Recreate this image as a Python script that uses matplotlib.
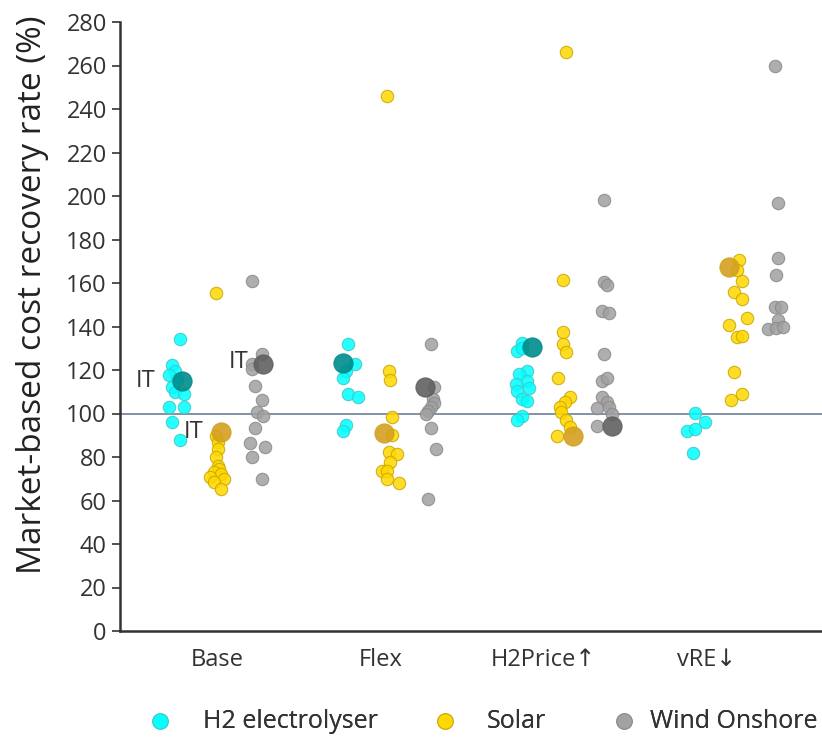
import numpy as np
import matplotlib
matplotlib.use("Agg")
import matplotlib.pyplot as plt

plt.rcParams['font.family'] = ['Open Sans', 'DejaVu Sans']

scenarios = ["Base", "Flex", "H2Price↑", "vRE↓"]
techs = ["H2 electrolyser", "Solar", "Wind Onshore"]

# recovery rates (%) per scenario
h2_vals = [
    [134.4, 122.2, 119.5, 117.6, 115.5, 112.0, 110.0, 109.0, 103.1, 102.8, 96.2, 87.9],
    [132.1, 122.7, 119.6, 116.5, 108.9, 107.7, 94.9, 92.1],
    [132.6, 128.8, 130.0, 119.6, 118.1, 115.0, 113.5, 111.7, 110.4, 106.6, 105.9, 99.0, 97.0],
    [100.1, 96.0, 91.8, 92.9, 81.7],
]
solar_vals = [
    [155.3, 89.8, 87.0, 83.7, 79.9, 76.0, 74.5, 73.0, 72.0, 70.7, 70.0, 68.5, 65.4],
    [246.1, 119.6, 115.5, 98.2, 90.0, 82.2, 81.4, 77.6, 73.5, 73.5, 69.7, 68.0],
    [266.3, 161.6, 137.6, 131.8, 128.5, 116.5, 107.7, 105.1, 102.8, 100.6, 97.0, 93.6, 89.8],
    [170.8, 166.0, 160.9, 155.8, 152.5, 144.0, 140.6, 135.2, 135.7, 119.2, 108.9, 106.2],
]
wind_vals = [
    [160.9, 127.3, 122.7, 120.4, 112.7, 106.2, 100.5, 99.0, 93.4, 86.3, 84.8, 79.9, 70.0],
    [132.1, 112.3, 106.6, 105.0, 102.8, 101.3, 100.0, 93.2, 83.7, 60.5],
    [198.0, 160.5, 159.0, 147.1, 146.0, 127.3, 115.0, 116.3, 107.7, 105.5, 102.5, 103.0, 99.8, 94.4],
    [259.9, 196.6, 171.3, 163.9, 148.9, 148.9, 143.0, 138.7, 139.2, 139.8],
]
# IT values (large markers); None where absent
h2_it = [115.0, 123.0, 130.8, None]
solar_it = [91.5, 90.9, 89.8, 167.3]
wind_it = [122.7, 112.3, 94.4, None]

# horizontal jitter of the points (category units, relative to scenario)
h2_dx = [
    [-0.23, -0.28, -0.26, -0.30, -0.25, -0.28, -0.26, -0.21, -0.30, -0.21, -0.28, -0.23],
    [-0.20, -0.16, -0.21, -0.23, -0.20, -0.14, -0.21, -0.23],
    [-0.13, -0.16, -0.13, -0.10, -0.15, -0.10, -0.17, -0.09, -0.16, -0.13, -0.10, -0.13, -0.16],
    [-0.07, -0.01, -0.12, -0.07, -0.08],
]
solar_dx = [
    [-0.01, -0.01, 0.0, 0.0, -0.01, 0.0, 0.01, -0.02, 0.02, -0.05, 0.04, -0.02, 0.02],
    [0.04, 0.05, 0.06, 0.07, 0.07, 0.05, 0.10, 0.06, 0.01, 0.04, 0.04, 0.11],
    [0.14, 0.12, 0.12, 0.12, 0.14, 0.09, 0.16, 0.13, 0.10, 0.11, 0.14, 0.16, 0.08],
    [0.20, 0.19, 0.22, 0.17, 0.22, 0.25, 0.14, 0.19, 0.22, 0.17, 0.22, 0.15],
]
wind_dx = [
    [0.21, 0.27, 0.21, 0.21, 0.23, 0.27, 0.24, 0.28, 0.23, 0.20, 0.29, 0.21, 0.27],
    [0.31, 0.33, 0.32, 0.33, 0.31, 0.29, 0.28, 0.31, 0.34, 0.29],
    [0.37, 0.37, 0.39, 0.36, 0.40, 0.37, 0.36, 0.39, 0.36, 0.39, 0.33, 0.40, 0.42, 0.33],
    [0.42, 0.44, 0.44, 0.43, 0.42, 0.46, 0.44, 0.38, 0.43, 0.47],
]
h2_it_dx = [-0.22, -0.23, -0.07, 0]
solar_it_dx = [0.02, 0.02, 0.18, 0.14]
wind_it_dx = [0.28, 0.27, 0.42, 0]

small_col = ["#00FFFF", "#FFD700", "#A0A0A0"]
small_edge = ["#40C8C8", "#C8A800", "#8A8A8A"]
big_col = ["#008B8B", "#D4A020", "#606060"]

fig = plt.figure(figsize=(8.22, 7.37), dpi=100)
ax = fig.add_axes([120 / 822, 106 / 737, 702 / 822, 609 / 737])

series = [(h2_vals, h2_dx, h2_it, h2_it_dx),
          (solar_vals, solar_dx, solar_it, solar_it_dx),
          (wind_vals, wind_dx, wind_it, wind_it_dx)]

handles = []
for k, (vals, dxs, its, itdx) in enumerate(series):
    for i in range(len(scenarios)):
        x = i + np.array(dxs[i])
        sc = ax.scatter(x, vals[i], s=80, color=small_col[k], edgecolor=small_edge[k],
                        linewidth=0.8, alpha=0.85, zorder=3)
        if i == 0:
            handles.append(sc)
        if its[i] is not None:
            ax.scatter(i + itdx[i], its[i], s=190, color=big_col[k], edgecolor=big_col[k],
                       linewidth=0.8, alpha=0.9, zorder=4)

# IT labels in Base
ax.text(-0.44, h2_it[0], "IT", fontsize=17, color="#333333", ha="center", va="center", zorder=5)
ax.text(-0.15, solar_it[0], "IT", fontsize=17, color="#333333", ha="center", va="center", zorder=5)
ax.text(0.13, wind_it[0] + 1, "IT", fontsize=17, color="#333333", ha="center", va="center", zorder=5)

ax.axhline(100, color="#6E7F96", linewidth=1.2, zorder=2)

ax.set_xlim(-0.6, 3.71)
ax.set_ylim(0, 280)
ax.set_yticks(np.arange(0, 281, 20))
ax.set_xticks(range(len(scenarios)))
ax.set_xticklabels(scenarios)
ax.tick_params(axis="y", labelsize=17, colors="#333333", length=6, width=1.2)
ax.tick_params(axis="x", labelsize=17, colors="#333333", length=0, pad=12)
for t in ax.get_yticklabels() + ax.get_xticklabels():
    t.set_color("#333333")
fig.text(33 / 822, 1 - 295 / 737, "Market-based cost recovery rate (%)", fontsize=24,
         color="#222222", rotation=90, ha="center", va="center")
for s in ["top", "right"]:
    ax.spines[s].set_visible(False)
for s in ["left", "bottom"]:
    ax.spines[s].set_linewidth(1.8)
    ax.spines[s].set_color("#333333")

# legend entries placed one by one like the original
leg_left = [147, 432, 611]
leg_pad = [1.25, 1.17, 0.55]
for k in range(3):
    lg = fig.legend([handles[k]], [techs[k]], loc="center left",
                    bbox_to_anchor=(leg_left[k] / 822, 16 / 737), frameon=False,
                    fontsize=18, handlelength=1.0, handletextpad=leg_pad[k],
                    borderpad=0, borderaxespad=0, markerscale=1.25, labelcolor="#333333")
    fig.add_artist(lg)

fig.savefig("out.png", dpi=100)
